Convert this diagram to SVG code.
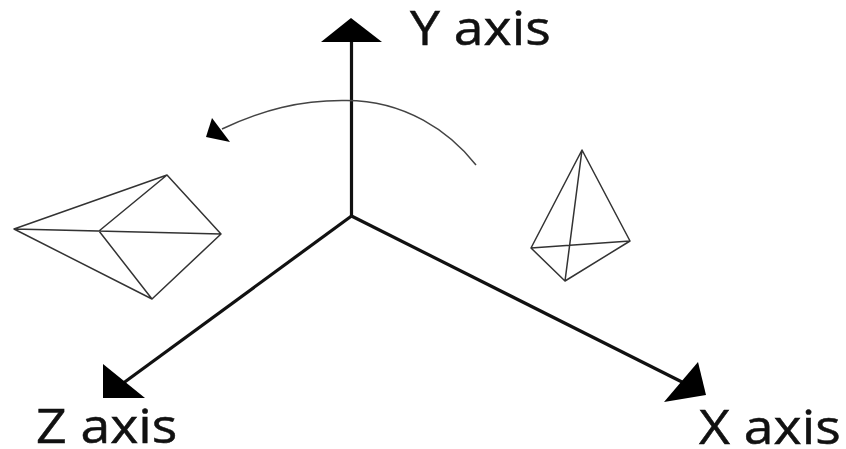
<svg xmlns="http://www.w3.org/2000/svg" width="846" height="449" viewBox="0 0 846 449">
<style>
.ax{fill:none;stroke:#111;stroke-width:3.2}
.th{fill:none;stroke:#333;stroke-width:1.5;stroke-linejoin:round}
.ah{fill:#000}
text{font-family:"Open Sans","Noto Sans",sans-serif;font-size:47px;fill:#111;stroke:#111;stroke-width:.5}
</style>
<rect width="846" height="449" fill="#fff"/>
<g id="connectors">
<path class="ax" d="M351.500 42V216"/>
<path class="ax" d="M351.500 216L122 384"/>
<path class="ax" d="M351.500 216L684 383"/>
<path class="ah" d="M351 18L382 42H321Z"/>
<path class="ah" d="M103 364V398H145Z"/>
<path class="ah" d="M698 362L706 395L664 402Z"/>
<path d="M476 165C450 132 405 100 345 100.500C300 100 262 110 222 129" fill="none" stroke="#444" stroke-width="1.5"/>
<path class="ah" d="M212 118L206 137L230 142Z"/>
</g>
<g id="left-shape"><path class="th" d="M14 229L167 175L221 234L152 299L99 231ZM167 175L99 231M14 229L221 234M14 229L152 299"/></g>
<g id="right-shape"><path class="th" d="M582 150L630 241L565 281L531 248ZM582 150L565 281M531 248L630 241"/></g>
<g id="y-label"><text transform="translate(410 45) scale(1.14 1)">Y axis</text></g>
<g id="z-label"><text transform="translate(36 443) scale(1.14 1)">Z axis</text></g>
<g id="x-label"><text transform="translate(699 444) scale(1.14 1)">X axis</text></g>
</svg>
